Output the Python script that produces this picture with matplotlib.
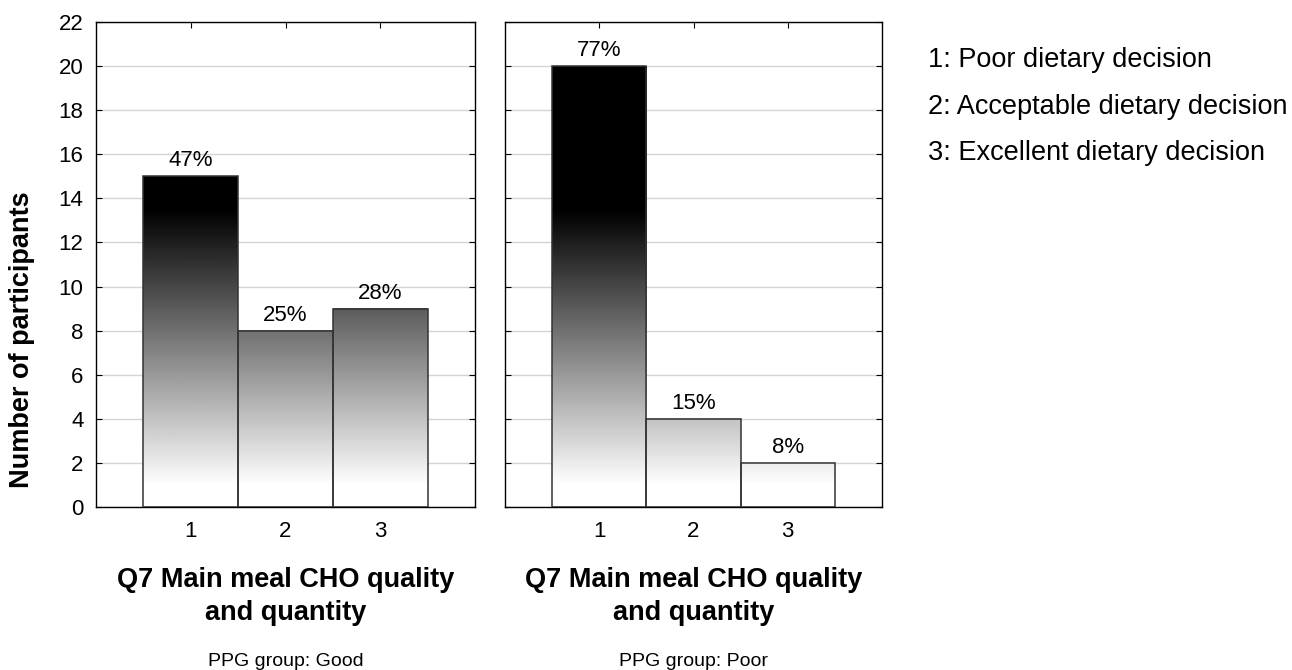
import numpy as np
import matplotlib
matplotlib.use("Agg")
import matplotlib.pyplot as plt
from matplotlib.colors import LinearSegmentedColormap, Normalize

plt.rcParams['font.family'] = ['Liberation Sans', 'DejaVu Sans']

categories = [1, 2, 3]
good_counts = [15, 8, 9]
poor_counts = [20, 4, 2]
groups = ['Good', 'Poor']
legend_lines = ['1: Poor dietary decision',
                '2: Acceptable dietary decision',
                '3: Excellent dietary decision']
title_lines = ['Q7 Main meal CHO quality', 'and quantity']

W, H = 1292, 670

# fill shade depends on height: white near the base, solid black from ~13.5 up
shade = LinearSegmentedColormap.from_list('shade', ['white', 'black'])
shade_norm = Normalize(vmin=1.0, vmax=13.5, clip=True)


def fig_y(px):
    return 1 - px / H


def draw_panel(ax, counts, group, show_ylabels):
    for cat, n in zip(categories, counts):
        ys = np.linspace(0, n, 400)
        ax.imshow(ys[:, None], cmap=shade, norm=shade_norm, origin='lower', aspect='auto',
                  extent=[cat - 0.5, cat + 0.5, 0, n], zorder=2, interpolation='bilinear')
    ax.bar(categories, counts, width=1.0, fill=False, edgecolor='#333333',
           linewidth=1.1, zorder=3)
    total = sum(counts)
    for cat, n in zip(categories, counts):
        ax.text(cat, n + 0.45, f'{round(100 * n / total)}%', ha='center', va='baseline',
                fontsize=16, zorder=4)

    ax.set_xlim(0, 4)
    ax.set_ylim(0, 22)
    ax.set_xticks(categories)
    ax.set_yticks(range(0, 23, 2))
    ax.yaxis.grid(True, color='#d4d4d4', linewidth=1.0, zorder=0)
    ax.set_axisbelow(True)
    ax.tick_params(direction='in', top=True, right=True, length=4, labelsize=16,
                   width=0.8)
    ax.tick_params(axis='x', pad=10)
    ax.tick_params(axis='y', pad=9)
    if not show_ylabels:
        ax.tick_params(labelleft=False)
    for s in ax.spines.values():
        s.set_linewidth(1.0)

    # axis caption and group name under the panel
    bb = ax.get_position()
    cx = (bb.x0 + bb.x1) / 2
    ax.figure.text(cx, fig_y(587), title_lines[0], ha='center', va='baseline',
                   fontsize=19.5, fontweight='bold')
    ax.figure.text(cx, fig_y(620), title_lines[1], ha='center', va='baseline',
                   fontsize=19.5, fontweight='bold')
    ax.figure.text(cx, fig_y(666), f'PPG group: {group}', ha='center', va='baseline',
                   fontsize=14)


fig = plt.figure(figsize=(W / 100, H / 100), dpi=100)
ax1 = fig.add_axes([96 / W, fig_y(507), 379 / W, 485 / H])
ax2 = fig.add_axes([505 / W, fig_y(507), 377 / W, 485 / H])

draw_panel(ax1, good_counts, groups[0], True)
draw_panel(ax2, poor_counts, groups[1], False)

fig.text(22 / W, fig_y(340), 'Number of participants', rotation=90,
         ha='center', va='center', fontsize=19.5, fontweight='bold')

for i, line in enumerate(legend_lines):
    fig.text(928 / W, fig_y(67 + 46.5 * i), line, ha='left', va='baseline',
             fontsize=19.5)

fig.savefig('out.png', dpi=100)
